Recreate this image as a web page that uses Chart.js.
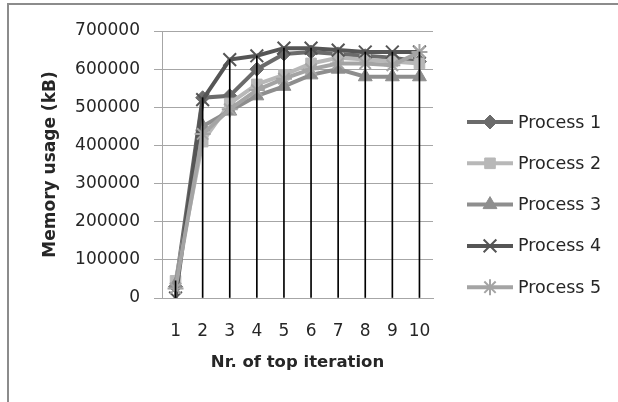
<!DOCTYPE html>
<html>
<head>
<meta charset="utf-8">
<script src="https://cdn.jsdelivr.net/npm/chart.js@4/dist/chart.umd.min.js"></script>
<style>
    body { margin: 0; background: #fff; }
    #wrap { position: relative; width: 618px; height: 402px; overflow: hidden; }
    #frame { position: absolute; left: 7px; top: 3px; width: 700px; height: 500px; border: 2px solid #8c8c8c; pointer-events: none; }
    canvas { position: absolute; left: 0; top: 0; }
</style>
</head>
<body>
<div id="wrap">
    <div id="frame"></div>
    <canvas id="chart" width="618" height="402"></canvas>
</div>
<script>
"use strict";

// data
const iterations = ['1', '2', '3', '4', '5', '6', '7', '8', '9', '10'];
const process1 = [30000, 525000, 530000, 600000, 640000, 645000, 640000, 635000, 630000, 620000];
const process2 = [45000, 410000, 510000, 560000, 585000, 615000, 630000, 625000, 620000, 615000];
const process3 = [35000, 450000, 490000, 530000, 555000, 585000, 600000, 580000, 580000, 580000];
const process4 = [0, 520000, 625000, 635000, 655000, 655000, 650000, 645000, 645000, 645000];
const process5 = [25000, 430000, 495000, 545000, 575000, 600000, 615000, 615000, 610000, 645000];
const yTicks = [0, 100000, 200000, 300000, 400000, 500000, 600000, 700000];

const seriesNames = ['Process 1', 'Process 2', 'Process 3', 'Process 4', 'Process 5'];
const seriesData = [process1, process2, process3, process4, process5];
const seriesColors = ['#6b6b6b', '#b8b8b8', '#8e8e8e', '#555555', '#a4a4a4'];
const seriesMarkers = [
    { pointStyle: 'rectRot', radius: 7, borderWidth: 1 },
    { pointStyle: 'rect', radius: 7.5, borderWidth: 1 },
    { pointStyle: 'triangle', radius: 8, borderWidth: 1 },
    { pointStyle: 'crossRot', radius: 9, borderWidth: 2 },
    { pointStyle: 'star', radius: 8, borderWidth: 2 }
];

const tickFont = { family: 'DejaVu Sans', size: 17 };
const titleFont = { family: 'DejaVu Sans', size: 17, weight: 'bold' };

// drop lines: from the axis up to the highest series value
const dropTops = iterations.map((c, i) => Math.max(...seriesData.map(s => s[i])));

let datasets = seriesNames.map((name, k) => ({
    type: 'line',
    label: name,
    data: seriesData[k],
    borderColor: seriesColors[k],
    backgroundColor: seriesColors[k],
    borderWidth: 4,
    pointStyle: seriesMarkers[k].pointStyle,
    pointRadius: seriesMarkers[k].radius,
    pointBorderWidth: seriesMarkers[k].borderWidth,
    pointBackgroundColor: seriesColors[k],
    pointBorderColor: seriesColors[k],
    tension: 0,
    order: 6 - k
}));

datasets.push({
    type: 'bar',
    label: 'drop',
    data: dropTops.map(v => [0, v]),
    backgroundColor: '#000000',
    barThickness: 1,
    order: 0
});

// Excel-like legend: line sample with marker, drawn at the right
const legendPlugin = {
    id: 'sideLegend',
    afterDraw(chart) {
        const ctx = chart.ctx;
        ctx.save();
        seriesNames.forEach((name, k) => {
            let y = 122 + k * 41.3;
            ctx.strokeStyle = seriesColors[k];
            ctx.lineWidth = 4;
            ctx.beginPath();
            ctx.moveTo(467, y);
            ctx.lineTo(513, y);
            ctx.stroke();
            ctx.fillStyle = seriesColors[k];
            ctx.lineWidth = seriesMarkers[k].borderWidth;
            Chart.helpers.drawPoint(ctx, {
                pointStyle: seriesMarkers[k].pointStyle,
                radius: seriesMarkers[k].radius,
                rotation: 0,
                borderWidth: seriesMarkers[k].borderWidth
            }, 490, y);
            ctx.fillStyle = '#262626';
            ctx.font = '17.5px "DejaVu Sans"';
            ctx.textBaseline = 'middle';
            ctx.textAlign = 'left';
            ctx.fillText(name, 518, y + 1);
        });
        ctx.restore();
    }
};

const chart = new Chart(document.getElementById('chart'), {
    data: {
        labels: iterations,
        datasets: datasets
    },
    options: {
        responsive: false,
        animation: false,
        layout: { padding: { top: 31, right: 185, bottom: 0, left: 0 } },
        plugins: {
            legend: { display: false },
            tooltip: { enabled: false }
        },
        scales: {
            x: {
                type: 'category',
                offset: true,
                grid: { display: false },
                border: { display: true, color: '#a6a6a6', width: 1 },
                ticks: { color: '#262626', font: tickFont, padding: 15, maxRotation: 0 },
                title: {
                    display: true, text: 'Nr. of top iteration', color: '#262626',
                    font: { family: 'DejaVu Sans', size: 16.5, weight: 'bold' },
                    padding: { top: 0, bottom: 29 }
                },
                afterFit(scale) { scale.height = 104; }
            },
            y: {
                min: 0,
                max: 700000,
                afterBuildTicks(scale) { scale.ticks = yTicks.map(v => ({ value: v })); },
                grid: { color: '#a6a6a6', lineWidth: 1, tickLength: 8, drawTicks: true },
                border: { display: true, color: '#a6a6a6', width: 1 },
                ticks: { color: '#262626', font: tickFont, padding: 14, callback: v => String(v) },
                title: {
                    display: true, text: 'Memory usage (kB)', color: '#262626',
                    font: titleFont, padding: { top: 40, bottom: 0 }
                },
                afterFit(scale) { scale.width = 162; }
            }
        }
    },
    plugins: [legendPlugin]
});
</script>
</body>
</html>
